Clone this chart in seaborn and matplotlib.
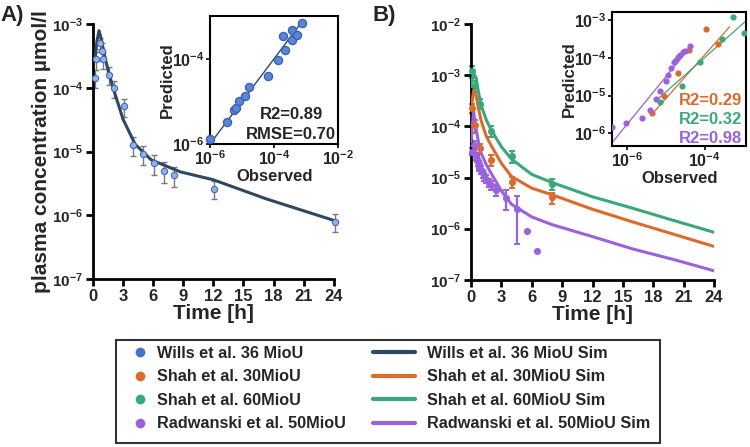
import numpy as np
import matplotlib
matplotlib.use('Agg')
import matplotlib.pyplot as plt
from matplotlib.lines import Line2D
from matplotlib.patches import Rectangle
from matplotlib.ticker import NullLocator
import seaborn as sns

# ---- data ----
# Wills et al. 36 MioU (panel A)
wills_t = [0.17, 0.33, 0.67, 0.9, 1.0, 1.6, 2.06, 3.05, 4.0, 5.0, 6.07, 7.07, 8.07, 12.08, 24.1]
wills_c = [1.45e-4, 2.8e-4, 5.1e-4, 3.8e-4, 2.8e-4, 1.6e-4, 1.0e-4, 5.1e-5, 1.26e-5,
           9.1e-6, 6.5e-6, 5.0e-6, 4.3e-6, 2.6e-6, 7.9e-7]
wills_sd = [4.5e-5, 9e-5, 1e-4, 1.2e-4, 8.5e-5, 5e-5, 3e-5, 1.6e-5, 4.2e-6,
            3e-6, 2.2e-6, 1.8e-6, 1.5e-6, 8e-7, 2.4e-7]
wills_sim_t = [0.2, 0.4, 0.6, 0.85, 1.1, 1.5, 2, 3, 4.2, 5.8, 8.7, 12, 17.3, 24]
wills_sim_c = [2.9e-4, 5.5e-4, 7.9e-4, 5.6e-4, 3.5e-4, 1.9e-4, 1.0e-4, 3.2e-5, 1.3e-5,
               7.4e-6, 4.8e-6, 3.6e-6, 1.8e-6, 8.3e-7]
# inset A: observed vs predicted
wills_obs = [1.0e-6, 3.3e-6, 5.6e-6, 6.5e-6, 8.2e-6, 1.2e-5, 1.7e-5, 6.6e-5, 1.3e-4,
             2.2e-4, 1.9e-4, 3.7e-4, 3.7e-4, 5.2e-4, 7.6e-4]
wills_pred = [1.3e-6, 3.3e-6, 6.2e-6, 7.1e-6, 1.0e-5, 1.3e-5, 2.2e-5, 4.0e-5, 9.5e-5,
              1.6e-4, 3.5e-4, 4.8e-4, 2.8e-4, 3.6e-4, 6.8e-4]
wills_ident = [1e-6, 6e-4]

# Shah et al. 30 / 60 MioU, Radwanski et al. 50 MioU (panel B)
shah_t = [0.08, 0.4, 0.9, 2.0, 4.0, 8.0]
shah30_c = [2.3e-4, 1.05e-4, 3.7e-5, 2.2e-5, 8.2e-6, 4.1e-6]
shah30_sd = [5e-5, 3e-5, 8e-6, 5e-6, 2e-6, 1e-6]
shah60_c = [1.2e-3, 6.2e-4, 2.8e-4, 8.2e-5, 2.6e-5, 7.4e-6]
shah60_sd = [3e-4, 1.5e-4, 6e-5, 2e-5, 7e-6, 1.8e-6]
radw_t = [0.08, 0.25, 0.33, 0.5, 0.58, 0.67, 0.75, 0.83, 1.0, 1.17, 1.33, 1.5,
          1.75, 2.0, 2.5, 3.5, 4.5, 5.5, 6.5]
radw_c = [3.2e-5, 3.0e-5, 4.4e-5, 2.6e-5, 2.3e-5, 2.0e-5, 1.8e-5, 1.6e-5, 1.4e-5,
          1.2e-5, 1.05e-5, 9.5e-6, 8.0e-6, 7.2e-6, 5.8e-6, 4.0e-6, 2.4e-6, 9.1e-7, 3.7e-7]
radw_sd = [5e-6, 4e-6, 8e-6, 4e-6, 3e-6, 3e-6, 3e-6, 2.5e-6, 2.5e-6,
           2e-6, 2e-6, 1.5e-6, 1.5e-6, 1.5e-6, 1.5e-6, 1.7e-6, 1.9e-6, 0, 0]

sim_t = [0, 0.25, 0.5, 0.75, 1, 1.5, 2, 3, 4, 6, 8, 12, 16, 20, 24]
shah30_sim = [2e-4, 5e-4, 4e-4, 2.2e-4, 1.3e-4, 6.5e-5, 4.2e-5, 1.9e-5, 1.05e-5,
              6.2e-6, 4.6e-6, 2.4e-6, 1.35e-6, 7.8e-7, 4.5e-7]
shah60_sim = [6e-4, 1.1e-3, 9e-4, 4.5e-4, 2.6e-4, 1.35e-4, 8.5e-5, 4e-5, 2.3e-5,
              1.15e-5, 8e-6, 4.2e-6, 2.5e-6, 1.45e-6, 8.5e-7]
radw_sim = [5e-5, 2e-4, 9e-5, 4.8e-5, 3e-5, 1.8e-5, 1.2e-5, 5.5e-6, 3e-6,
            1.7e-6, 1.2e-6, 7e-7, 4e-7, 2.5e-7, 1.5e-7]

# inset B: observed vs predicted
shah30_obs = [10**-3.96, 10**-3.66, 10**-4.40, 10**-4.68, 10**-5.06, 10**-5.37]
shah30_pred = [10**-3.24, 10**-3.64, 10**-3.79, 10**-4.40, 10**-5.02, 10**-5.46]
shah60_obs = [10**-3.27, 10**-2.99, 10**-3.56, 10**-4.11, 10**-4.59, 10**-5.15]
shah60_pred = [10**-2.93, 10**-3.35, 10**-3.50, 10**-4.11, 10**-4.74, 10**-5.17]
radw_obs = [10**-6.41, 10**-6.03, 10**-5.61, 10**-5.41, 10**-5.25, 10**-5.15, 10**-5.0,
            10**-4.94, 10**-4.86, 10**-4.79, 10**-4.74, 10**-4.69, 10**-4.63, 10**-4.56,
            10**-4.50, 10**-4.37]
radw_pred = [10**-5.82, 10**-5.74, 10**-5.59, 10**-5.39, 10**-5.09, 10**-4.87, 10**-4.62,
             10**-4.47, 10**-4.27, 10**-4.12, 10**-4.05, 10**-3.98, 10**-3.92, 10**-3.86,
             10**-3.83, 10**-3.70]
# fitted lines in inset B (end points)
shah30_fit_obs, shah30_fit_pred = [10**-5.37, 10**-3.35], [10**-5.5, 10**-3.18]
shah60_fit_obs, shah60_fit_pred = [10**-5.24, 10**-2.9], [10**-5.12, 10**-3.0]
radw_fit_obs, radw_fit_pred = [10**-6.4, 10**-4.37], [10**-6.25, 10**-3.71]

r2_labels = ['R2=0.29', 'R2=0.32', 'R2=0.98']

# ---- colours ----
c_wills_face = '#93b3e8'
c_wills_edge = '#4169b8'
c_wills_sim = '#2f4860'
c_orange = '#dd6a2d'
c_green = '#3aa87a'
c_purple = '#9a62dc'

sns.set_theme(style='ticks')
plt.rcParams['font.family'] = ['Liberation Sans', 'DejaVu Sans']
plt.rcParams['font.weight'] = 'bold'
plt.rcParams['axes.labelweight'] = 'bold'
plt.rcParams['mathtext.fontset'] = 'custom'
plt.rcParams['mathtext.bf'] = 'Liberation Sans:bold'
plt.rcParams['mathtext.rm'] = 'Liberation Sans:bold'


def dec(e):
    return r'$\mathbf{10^{%d}}$' % e


def style_main(ax, exps):
    ax.set_yscale('log')
    ax.set_xlim(0, 24)
    ax.set_ylim(10.0 ** exps[0], 10.0 ** exps[-1])
    ax.set_xticks(range(0, 25, 3))
    ax.set_xticklabels([str(v) for v in range(0, 25, 3)], fontsize=12, fontweight='bold')
    ax.set_yticks([10.0 ** e for e in exps])
    ax.set_yticklabels([dec(e) for e in exps], fontsize=11)
    ax.yaxis.set_minor_locator(NullLocator())
    for s in ['top', 'right']:
        ax.spines[s].set_visible(False)
    for s in ['left', 'bottom']:
        ax.spines[s].set_linewidth(2)
        ax.spines[s].set_color('black')
    ax.tick_params(width=2, length=5, color='black', pad=2)
    ax.set_xlabel('Time [h]', fontsize=15, fontweight='bold', labelpad=0)


def style_inset(ax, xexps, yexps, xlim, ylim):
    ax.set_xscale('log')
    ax.set_yscale('log')
    ax.set_xlim(*xlim)
    ax.set_ylim(*ylim)
    ax.set_xticks([10.0 ** e for e in xexps])
    ax.set_xticklabels([dec(e) for e in xexps], fontsize=11.5)
    ax.set_yticks([10.0 ** e for e in yexps])
    ax.set_yticklabels([dec(e) for e in yexps], fontsize=11.5)
    ax.xaxis.set_minor_locator(NullLocator())
    ax.yaxis.set_minor_locator(NullLocator())
    for s in ax.spines.values():
        s.set_linewidth(1.5)
        s.set_color('black')
    ax.tick_params(width=1.2, length=3, color='black', pad=1)
    ax.set_xlabel('Observed', fontsize=12, fontweight='bold', labelpad=0.5)
    ax.set_ylabel('Predicted', fontsize=12, fontweight='bold', labelpad=-2)


fig = plt.figure(figsize=(7.5, 4.47), dpi=100)

# ---------------- panel A ----------------
axA = fig.add_axes([0.124, 0.376, 0.321, 0.570])
axA.errorbar(wills_t, wills_c, yerr=wills_sd, fmt='none', ecolor='#7a7a7a',
             elinewidth=1, capsize=2.5, capthick=1, zorder=2, clip_on=False)
sns.lineplot(x=wills_sim_t, y=wills_sim_c, ax=axA, color=c_wills_sim, lw=2.2,
             estimator=None, sort=False, zorder=3)
sns.scatterplot(x=wills_t, y=wills_c, ax=axA, color=c_wills_face, edgecolor=c_wills_edge,
                linewidth=0.8, s=20, zorder=4, clip_on=False)
style_main(axA, [-7, -6, -5, -4, -3])
axA.set_ylabel('plasma concentration µmol/l', fontsize=15, fontweight='bold', labelpad=1)

insA = fig.add_axes([0.280, 0.678, 0.171, 0.286])
sns.lineplot(x=wills_ident, y=wills_ident, ax=insA, color=c_wills_sim, lw=1,
             estimator=None, sort=False)
sns.scatterplot(x=wills_obs, y=wills_pred, ax=insA, color='#5a86d6', edgecolor='#3b62b5',
                linewidth=1, s=34, zorder=3, clip_on=False)
style_inset(insA, [-6, -4, -2], [-6, -4], (1e-6, 1e-2), (1e-6, 1e-3))
insA.text(0.88, 0.23, 'R2=0.89', transform=insA.transAxes, ha='right', va='center',
          fontsize=12, fontweight='bold')
insA.text(0.985, 0.07, 'RMSE=0.70', transform=insA.transAxes, ha='right', va='center',
          fontsize=12, fontweight='bold')

# ---------------- panel B ----------------
axB = fig.add_axes([0.628, 0.374, 0.324, 0.572])
series = [
    (shah_t, shah30_c, shah30_sd, shah30_sim, c_orange),
    (shah_t, shah60_c, shah60_sd, shah60_sim, c_green),
    (radw_t, radw_c, radw_sd, radw_sim, c_purple),
]
for t, c, sd, sim, col in series:
    axB.errorbar(t, c, yerr=sd, fmt='none', ecolor=col, elinewidth=1.6,
                 capsize=2.5, capthick=1.4, zorder=2, clip_on=False)
    sns.lineplot(x=sim_t, y=sim, ax=axB, color=col, lw=2.2, estimator=None,
                 sort=False, zorder=3)
    sns.scatterplot(x=t, y=c, ax=axB, color=col, edgecolor=col, linewidth=0,
                    s=26, zorder=4, clip_on=False)
style_main(axB, [-7, -6, -5, -4, -3, -2])

insB = fig.add_axes([0.816, 0.673, 0.179, 0.301])
inset_b = [
    (shah30_obs, shah30_pred, shah30_fit_obs, shah30_fit_pred, c_orange),
    (shah60_obs, shah60_pred, shah60_fit_obs, shah60_fit_pred, c_green),
    (radw_obs, radw_pred, radw_fit_obs, radw_fit_pred, c_purple),
]
for ob, pr, fo, fp, col in inset_b:
    sns.lineplot(x=fo, y=fp, ax=insB, color=col, lw=0.9, estimator=None, sort=False)
    sns.scatterplot(x=ob, y=pr, ax=insB, color=col, edgecolor=col, linewidth=0,
                    s=20, zorder=3)
style_inset(insB, [-6, -4], [-6, -5, -4, -3], (10 ** -6.4, 10 ** -2.92),
            (10 ** -6.34, 10 ** -2.78))
for lab, col, yy in zip(r2_labels, [c_orange, c_green, c_purple], [0.34, 0.195, 0.055]):
    insB.text(0.97, yy, lab, transform=insB.transAxes, ha='right', va='center',
              fontsize=12, fontweight='bold', color=col)

# panel letters
fig.text(0.0, 0.965, 'A)', fontsize=16, fontweight='bold', va='center')
fig.text(0.496, 0.965, 'B)', fontsize=16, fontweight='bold', va='center')

# ---------------- legend (two columns + frame) ----------------
dot_handles = [
    Line2D([], [], ls='', marker='o', markersize=6, markerfacecolor=col, markeredgecolor=col)
    for col in ['#4472c4', c_orange, c_green, c_purple]
]
dot_labels = ['Wills et al. 36 MioU', 'Shah et al. 30MioU', 'Shah et al. 60MioU',
              'Radwanski et al. 50MioU']
line_handles = [Line2D([], [], color=col, lw=3)
                for col in [c_wills_sim, c_orange, c_green, c_purple]]
line_labels = ['Wills et al. 36 MioU Sim', 'Shah et al. 30MioU Sim',
               'Shah et al. 60MioU Sim', 'Radwanski et al. 50MioU Sim']
leg_kw = dict(loc='upper left', frameon=False, borderpad=0, borderaxespad=0,
              labelspacing=0.52, prop={'weight': 'bold', 'size': 11.7})
leg1 = fig.legend(dot_handles, dot_labels, bbox_to_anchor=(0.176, 0.226),
                  handlelength=1.0, handletextpad=0.55, **leg_kw)
leg2 = fig.legend(line_handles, line_labels, bbox_to_anchor=(0.497, 0.226),
                  handlelength=2.6, handletextpad=0.75, **leg_kw)
fig.patches.append(Rectangle((0.155, 0.009), 0.725, 0.230, transform=fig.transFigure,
                             fill=False, edgecolor='#333333', linewidth=1.5))

fig.savefig('out.png', dpi=100)
